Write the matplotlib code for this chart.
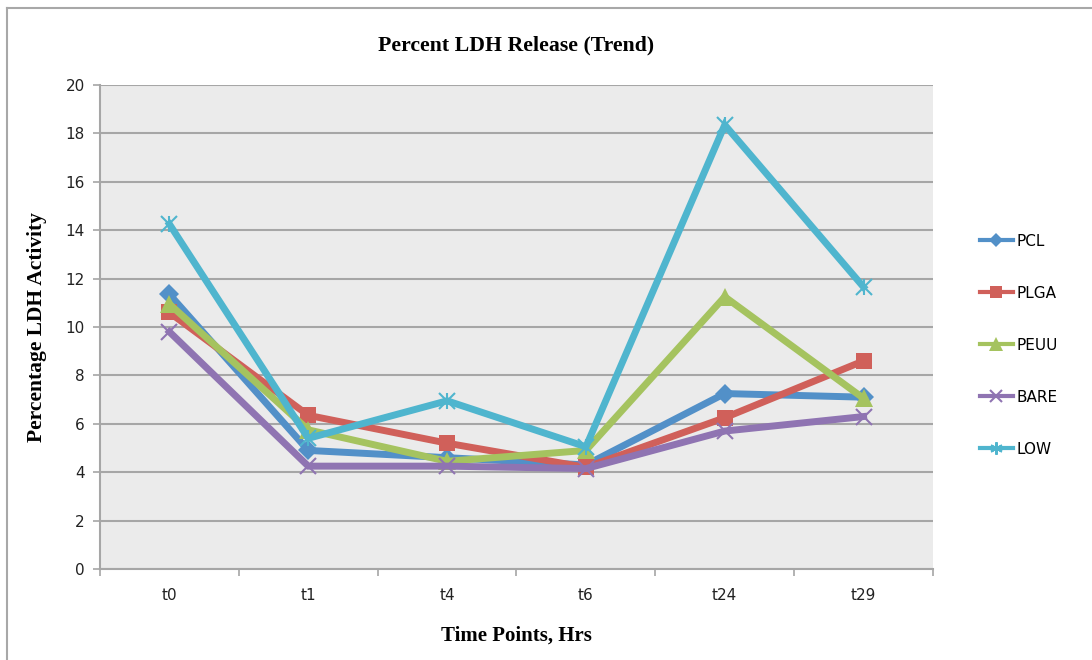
import matplotlib
matplotlib.use("Agg")
import matplotlib.pyplot as plt
from matplotlib.lines import Line2D

time_points = ["t0", "t1", "t4", "t6", "t24", "t29"]
pcl = [11.35, 4.9, 4.6, 4.3, 7.25, 7.1]
plga = [10.6, 6.35, 5.2, 4.2, 6.25, 8.6]
peuu = [10.95, 5.75, 4.45, 4.9, 11.25, 7.05]
bare = [9.8, 4.25, 4.25, 4.15, 5.7, 6.3]
low = [14.25, 5.4, 6.95, 5.05, 18.35, 11.65]

series = [
    ("PCL", pcl, "#5290c8", "D", 10),
    ("PLGA", plga, "#d0605a", "s", 12),
    ("PEUU", peuu, "#a5c35f", "^", 13),
    ("BARE", bare, "#8f74b2", "x", 12),
    ("LOW", low, "#4fb5ce", "x", 12),
]

W, H = 1092, 660
fig = plt.figure(figsize=(W / 100, H / 100), dpi=100)
ax = fig.add_axes([100 / W, 1 - 569 / H, (933 - 100) / W, (569 - 85) / H])
ax.set_facecolor("#ebebeb")

# chart frame (top and left edges)
fig.add_artist(Line2D([7 / W, 7 / W], [0, 1 - 8 / H], transform=fig.transFigure,
                      color="#a8a8a8", lw=1.5))
fig.add_artist(Line2D([7 / W, 1], [1 - 8 / H, 1 - 8 / H], transform=fig.transFigure,
                      color="#a8a8a8", lw=1.5))

x = list(range(len(time_points)))
for name, vals, col, mk, ms in series:
    if name == "LOW":
        # star-like marker: x plus vertical bar
        ax.plot(x, vals, color=col, lw=5, marker="x", ms=ms, mew=1.5, label=name,
                solid_joinstyle="miter", zorder=3)
        ax.plot(x, vals, color=col, lw=0, marker="|", ms=ms, mew=1.5, zorder=3)
    elif mk == "x":
        ax.plot(x, vals, color=col, lw=5, marker=mk, ms=ms, mew=1.5, label=name,
                solid_joinstyle="miter", zorder=3)
    else:
        ax.plot(x, vals, color=col, lw=5, marker=mk, ms=ms, mew=0, label=name,
                solid_joinstyle="miter", zorder=3)

ax.set_xlim(-0.5, len(time_points) - 0.5)
ax.set_ylim(0, 20)
ax.set_yticks(range(0, 21, 2))
ax.set_xticks(x)
ax.set_xticklabels(time_points)
ax.set_xticks([i - 0.5 for i in range(len(time_points) + 1)], minor=True)
ax.yaxis.grid(True, color="#a6a6a6", lw=1.5)
ax.set_axisbelow(True)

for side in ["right", "top"]:
    ax.spines[side].set_visible(False)
for side in ["left", "bottom"]:
    ax.spines[side].set_color("#a6a6a6")
    ax.spines[side].set_linewidth(1.5)

ax.tick_params(axis="y", which="major", length=5, color="#a6a6a6", width=1.2,
               labelsize=11, pad=6, labelcolor="#222222")
ax.tick_params(axis="x", which="major", length=0, labelsize=11, pad=14,
               labelcolor="#222222")
ax.tick_params(axis="x", which="minor", length=5, color="#a6a6a6", width=1.2)

ax.set_title("Percent LDH Release (Trend)", family="Liberation Serif",
             fontweight="bold", fontsize=15.7, pad=25)
ax.set_ylabel("Percentage LDH Activity", family="Liberation Serif",
              fontweight="bold", fontsize=15.5, labelpad=13)
ax.set_xlabel("Time Points, Hrs", family="Liberation Serif",
              fontweight="bold", fontsize=15, labelpad=16)

# legend handles with star marker for LOW
handles = []
for name, vals, col, mk, ms in series:
    if name == "LOW":
        handles.append(Line2D([], [], color=col, lw=3, marker=(6, 2, 0), ms=9, mew=1.5))
    elif mk == "x":
        handles.append(Line2D([], [], color=col, lw=3, marker="x", ms=8, mew=1.5))
    else:
        handles.append(Line2D([], [], color=col, lw=3, marker=mk, ms=ms * 0.75, mew=0))
leg = fig.legend(handles, [s[0] for s in series], loc="upper left",
                 bbox_to_anchor=(972 / W, 1 - 226 / H), frameon=False,
                 fontsize=11, handlelength=2.2, handletextpad=0.2,
                 labelspacing=2.42, borderpad=0)

fig.savefig("out.png", dpi=100)
